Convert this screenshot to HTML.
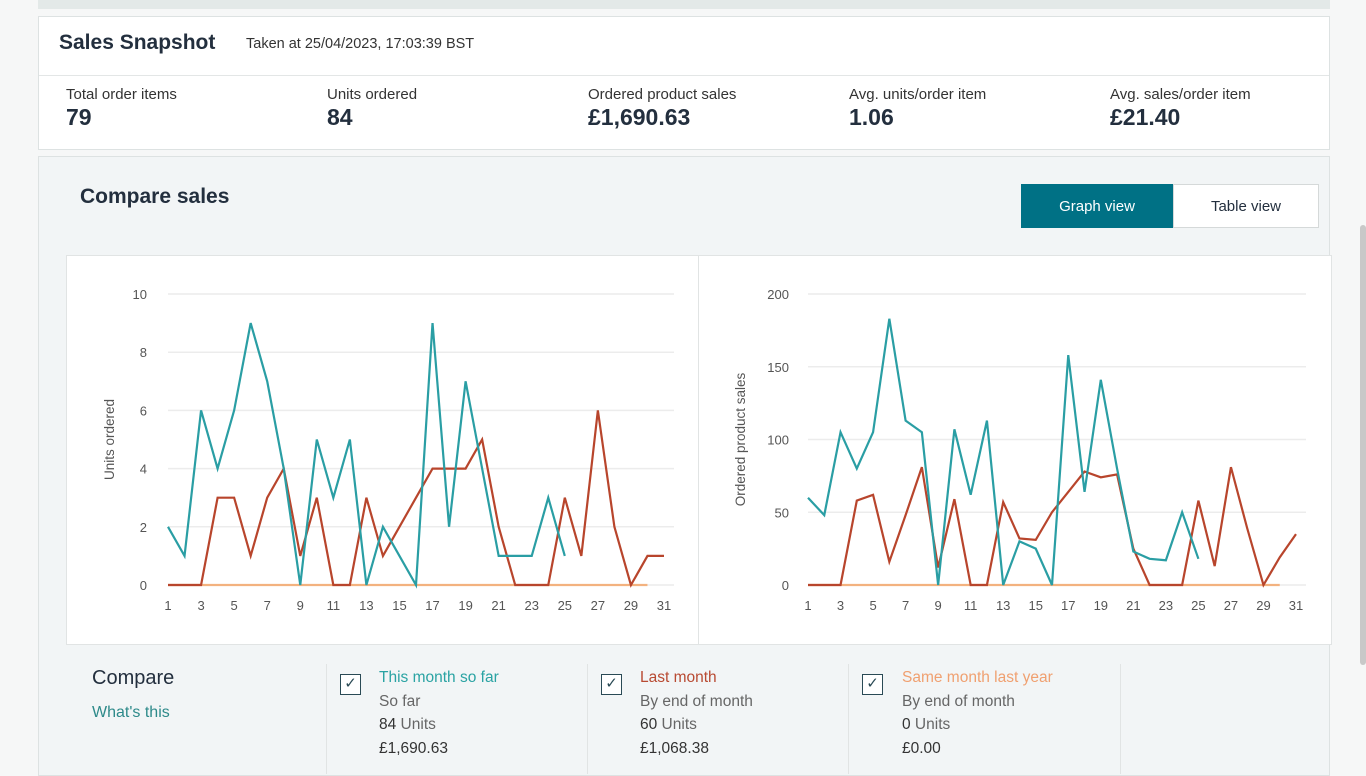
<!DOCTYPE html>
<html><head><meta charset="utf-8">
<style>
*{box-sizing:border-box;margin:0;padding:0}
body{width:1366px;height:768px;overflow:hidden;background:#f6f7f7;font-family:"Liberation Sans",sans-serif;color:#232f3e;position:relative}
.abs{position:absolute}
.topbar{left:38px;top:0;width:1292px;height:9px;background:#e3e9e8}
.card{left:38px;top:16px;width:1292px;height:134px;background:#fff;border:1px solid #dde2e2}
.hdr{height:59px;border-bottom:1px solid #e3e6e6;position:relative}
.metric{position:absolute;top:70px}
.metric .l{font-size:15px;color:#333}
.metric .v{font-size:23px;font-weight:bold;color:#232f3e;margin-top:1px}
.cmp{left:38px;top:156px;width:1292px;height:620px;background:#f2f5f6;border:1px solid #dde2e2}
.btn{top:184px;height:44px;font-size:15px;display:flex;align-items:center;justify-content:center}
.panel{left:66px;top:255px;width:1266px;height:390px;background:#fff;border:1px solid #e1e4e4}
.col{position:absolute;top:664px;height:110px;border-left:1px solid #e1e4e4;font-size:15.5px;color:#666;line-height:23.5px}
.cb{position:absolute;left:13px;top:10px;width:21px;height:21px;border:1.5px solid #2a4a55;background:#fff;font-size:15px;line-height:18px;text-align:center;color:#2a4a55}
</style></head><body>
<div class="abs topbar"></div>
<div class="abs card">
 <div class="hdr">
  <span class="abs" style="left:20px;top:14px;font-size:21px;font-weight:bold">Sales Snapshot</span>
  <span class="abs" style="left:207px;top:19px;font-size:14.5px;color:#333">Taken at 25/04/2023, 17:03:39 BST</span>
 </div>
 <div class="metric" style="left:27px;top:69px"><div class="l">Total order items</div><div class="v">79</div></div>
 <div class="metric" style="left:288px;top:69px"><div class="l">Units ordered</div><div class="v">84</div></div>
 <div class="metric" style="left:549px;top:69px"><div class="l">Ordered product sales</div><div class="v">£1,690.63</div></div>
 <div class="metric" style="left:810px;top:69px"><div class="l">Avg. units/order item</div><div class="v">1.06</div></div>
 <div class="metric" style="left:1071px;top:69px"><div class="l">Avg. sales/order item</div><div class="v">£21.40</div></div>
</div>
<div class="abs cmp"></div>
<div class="abs" style="left:80px;top:185px;font-size:21px;font-weight:bold">Compare sales</div>
<div class="abs btn" style="left:1021px;width:152px;background:#007185;color:#fff">Graph view</div>
<div class="abs btn" style="left:1173px;width:146px;background:#fff;border:1px solid #d5d9d9;color:#232f3e">Table view</div>
<div class="abs panel"></div>
<div class="abs" style="left:698px;top:256px;width:1px;height:388px;background:#e1e4e4"></div>
<svg class="abs" style="left:0;top:0" width="1366" height="768" id="charts"></svg>
<div class="abs" style="left:92px;top:667px;font-size:20px;color:#232f3e">Compare</div>
<div class="abs" style="left:92px;top:704px;font-size:16px;color:#2e8a8a">What's this</div>
<div class="col" style="left:326px;width:262px">
 <div class="cb">✓</div>
 <div style="position:absolute;left:52px;top:2px;white-space:nowrap"><span style="color:#2aa3a3">This month so far</span><br>So far<br><span style="color:#333">84</span> Units<br><span style="color:#333">£1,690.63</span></div>
</div>
<div class="col" style="left:587px;width:262px">
 <div class="cb">✓</div>
 <div style="position:absolute;left:52px;top:2px;white-space:nowrap"><span style="color:#b84a32">Last month</span><br>By end of month<br><span style="color:#333">60</span> Units<br><span style="color:#333">£1,068.38</span></div>
</div>
<div class="col" style="left:848px;width:273px;border-right:1px solid #e1e4e4">
 <div class="cb">✓</div>
 <div style="position:absolute;left:53px;top:2px;white-space:nowrap"><span style="color:#f0a070">Same month last year</span><br>By end of month<br><span style="color:#333">0</span> Units<br><span style="color:#333">£0.00</span></div>
</div>
<div class="abs" style="left:1360px;top:225px;width:6px;height:440px;background:#c8c8c8;border-radius:3px"></div>
<script>
const days=[1,2,3,4,5,6,7,8,9,10,11,12,13,14,15,16,17,18,19,20,21,22,23,24,25,26,27,28,29,30,31];
const unitsThisMonth=[2,1,6,4,6,9,7,4,0,5,3,5,0,2,1,0,9,2,7,4,1,1,1,3,1];
const unitsLastMonth=[0,0,0,3,3,1,3,4,1,3,0,0,3,1,2,3,4,4,4,5,2,0,0,0,3,1,6,2,0,1,1];
const unitsLastYear=[0,0,0,0,0,0,0,0,0,0,0,0,0,0,0,0,0,0,0,0,0,0,0,0,0,0,0,0,0,0];
const salesThisMonth=[60,48,105,80,105,183,113,105,0,107,62,113,0,30,25,0,158,64,141,80,23,18,17,50,18];
const salesLastMonth=[0,0,0,58,62,16,48,81,12,59,0,0,57,32,31,50,64,78,74,76,25,0,0,0,58,13,81,39,0,19,35];
const salesLastYear=[0,0,0,0,0,0,0,0,0,0,0,0,0,0,0,0,0,0,0,0,0,0,0,0,0,0,0,0,0,0];
const unitTicks=[0,2,4,6,8,10];
const salesTicks=[0,50,100,150,200];
const xTickDays=[1,3,5,7,9,11,13,15,17,19,21,23,25,27,29,31];
const NS="http://www.w3.org/2000/svg";
const svg=document.getElementById('charts');
function mk(tag,attrs){const e=document.createElementNS(NS,tag);for(const k in attrs)e.setAttribute(k,attrs[k]);svg.appendChild(e);return e;}
function chart(cfg){
 const x=d=>cfg.x0+(d-1)*(cfg.x1-cfg.x0)/30;
 const y=v=>cfg.y0-v*(cfg.y0-cfg.yTop)/cfg.max;
 cfg.ticks.forEach(t=>{
  const g=mk('line',{x1:cfg.x0-28+28,x2:cfg.x1+10,y1:y(t),y2:y(t),stroke:'#ececec','stroke-width':1.5});
  
  const tx=mk('text',{x:cfg.labX,y:y(t)+5,'text-anchor':'end','font-size':13,fill:'#555','font-family':'Liberation Sans'});
  tx.textContent=t;
 });
 xTickDays.forEach(d=>{
  const tx=mk('text',{x:x(d),y:cfg.y0+25,'text-anchor':'middle','font-size':13,fill:'#555','font-family':'Liberation Sans'});
  tx.textContent=d;
 });
 const at=mk('text',{transform:`translate(${cfg.titleX},${(cfg.y0+cfg.yTop)/2}) rotate(-90)`,'text-anchor':'middle','font-size':13.5,fill:'#555','font-family':'Liberation Sans'});
 at.textContent=cfg.title;
 [[cfg.s3,'#f3b27f','series-same-month-last-year'],[cfg.s2,'#b8452c','series-last-month'],[cfg.s1,'#2a9ea4','series-this-month']].forEach(([s,c,n])=>{
  const p=mk('polyline',{points:s.map((v,i)=>x(days[i])+','+y(v)).join(' '),fill:'none',stroke:c,'stroke-width':2.2,'stroke-linejoin':'miter'});
  
 });
}
chart({x0:168,x1:664,y0:585,yTop:294,max:10,ticks:unitTicks,labX:147,titleX:114,title:'Units ordered',s1:unitsThisMonth,s2:unitsLastMonth,s3:unitsLastYear});
chart({x0:808,x1:1296,y0:585,yTop:294,max:200,ticks:salesTicks,labX:789,titleX:745,title:'Ordered product sales',s1:salesThisMonth,s2:salesLastMonth,s3:salesLastYear});
</script>
</body></html>
